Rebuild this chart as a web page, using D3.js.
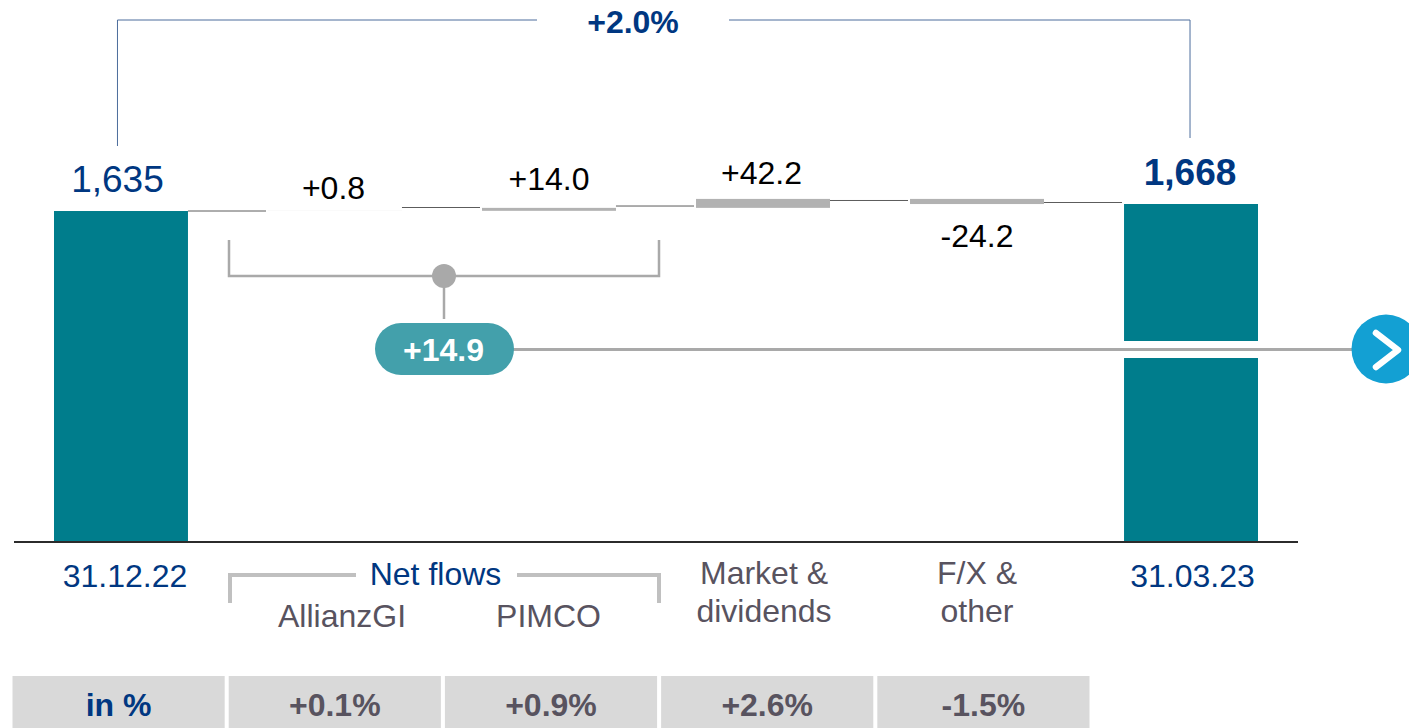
<!DOCTYPE html>
<html>
<head>
<meta charset="utf-8">
<script src="https://cdn.jsdelivr.net/npm/d3@7"></script>
<style>
    html, body { margin: 0; padding: 0; background: #fff; overflow: hidden; }
    text { font-family: "Liberation Sans", Arial, sans-serif; }
</style>
</head>
<body>
<script>
// waterfall data, EUR bn
const categories = ['31.12.22', 'AllianzGI', 'PIMCO', 'Market', 'FX', '31.03.23'];
const startValue = 1635;
const endValue = 1668;
const steps = [0.8, 14.0, 42.2, -24.2];
// connectors sit a bit off the running totals in the original
const connectorLevels = [1635, 1651.5, 1658.5, 1684.5, 1675];
const barLabels = ['1,635', '+0.8', '+14.0', '+42.2', '-24.2', '1,668'];
const netFlowLabel = '+14.9';
const totalChangeLabel = '+2.0%';
const tableLabels = ['in %', '+0.1%', '+0.9%', '+2.6%', '-1.5%'];

const WIDTH = 1409, HEIGHT = 728;
const BASELINE = 542;

const COLORS = {
    teal: '#007d8c',
    tealLight: '#43a0ab',
    navy: '#003781',
    grey: '#b2b2b2',
    bracket: '#a9a9a9',
    text: '#58535f',
    cell: '#d9d9d9',
    blue: '#13a0d3'
};

const svg = d3.select('body').append('svg')
    .attr('width', WIDTH)
    .attr('height', HEIGHT)
    .style('display', 'block');

// the y axis is broken in the original, so it does not start at zero
const x = d3.scaleBand().domain(categories).range([54, 1258]).paddingInner(0.374).paddingOuter(0);
const y = d3.scaleLinear().domain([77, endValue]).range([BASELINE, 204]);
const xMid = c => x(c) + x.bandwidth() / 2;

// running totals for the floating bars
let running = startValue;
const floats = steps.map((v, i) => {
    const row = { cat: categories[i + 1], from: running, to: running + v };
    running += v;
    return row;
});

// connectors between the bars
svg.append('g').selectAll('line')
    .data(connectorLevels)
    .enter().append('line')
    .attr('x1', (d, i) => x(categories[i]) + x.bandwidth())
    .attr('x2', (d, i) => x(categories[i + 1]) - 2)
    .attr('y1', d => y(d))
    .attr('y2', d => y(d))
    .attr('stroke', '#5c5c5c')
    .attr('stroke-width', 1);

// total bars
svg.append('g').selectAll('rect')
    .data([[categories[0], startValue], [categories[5], endValue]])
    .enter().append('rect')
    .attr('x', d => x(d[0]))
    .attr('y', d => y(d[1]))
    .attr('width', x.bandwidth())
    .attr('height', d => BASELINE - y(d[1]))
    .attr('fill', COLORS.teal);

// floating bars
svg.append('g').selectAll('rect')
    .data(floats)
    .enter().append('rect')
    .attr('x', d => x(d.cat))
    .attr('y', d => y(Math.max(d.from, d.to)))
    .attr('width', x.bandwidth())
    .attr('height', d => Math.abs(y(d.from) - y(d.to)))
    .attr('fill', (d, i) => i === 0 ? '#dcdcdc' : COLORS.grey);

// break in the last bar, behind the line to the arrow
svg.append('rect')
    .attr('x', x(categories[5]) - 1)
    .attr('y', 341)
    .attr('width', x.bandwidth() + 2)
    .attr('height', 17)
    .attr('fill', '#fff');

// baseline
svg.append('g')
    .attr('transform', `translate(0,${BASELINE})`)
    .call(d3.axisBottom(x).tickSize(0).tickFormat(''))
    .call(g => g.select('.domain')
        .attr('d', 'M14,0H1298')
        .attr('stroke', '#2b2b2b')
        .attr('stroke-width', 2));

// top bracket with the total change
const topBracket = svg.append('g')
    .attr('fill', 'none')
    .attr('stroke', '#4c6c9c')
    .attr('stroke-width', 1);
topBracket.append('path').attr('d', `M${xMid(categories[0]) - 3.5},146V20H537`);
topBracket.append('path').attr('d', `M729,20H${xMid(categories[5]) - 1}V138`);

svg.append('text')
    .attr('x', 633).attr('y', 33)
    .attr('text-anchor', 'middle')
    .attr('font-size', 32).attr('font-weight', 'bold')
    .attr('fill', COLORS.navy)
    .text(totalChangeLabel);

// value labels over the bars
const labelBaselines = [192, 199, 190, 183.5, 247, 185];
const labelShifts = [-3.5, -1.5, 0, -1.5, 0, -1];
svg.append('g').selectAll('text')
    .data(barLabels)
    .enter().append('text')
    .attr('x', (d, i) => xMid(categories[i]) + labelShifts[i])
    .attr('y', (d, i) => labelBaselines[i])
    .attr('text-anchor', 'middle')
    .attr('font-size', (d, i) => i === 0 || i === 5 ? 37 : 32)
    .attr('font-weight', (d, i) => i === 5 ? 'bold' : 'normal')
    .attr('fill', (d, i) => i === 0 || i === 5 ? COLORS.navy : '#000')
    .text(d => d);

// net flows bracket, dot and pill
svg.append('path')
    .attr('d', 'M229,240V276H659V240')
    .attr('fill', 'none')
    .attr('stroke', COLORS.bracket)
    .attr('stroke-width', 2.5);
svg.append('line')
    .attr('x1', 444).attr('x2', 444).attr('y1', 276).attr('y2', 319)
    .attr('stroke', COLORS.bracket).attr('stroke-width', 2.5);
svg.append('circle')
    .attr('cx', 444).attr('cy', 276).attr('r', 12)
    .attr('fill', COLORS.bracket);

svg.append('line')
    .attr('x1', 510).attr('x2', 1360).attr('y1', 349.5).attr('y2', 349.5)
    .attr('stroke', COLORS.bracket).attr('stroke-width', 3);

svg.append('rect')
    .attr('x', 375).attr('y', 323)
    .attr('width', 139).attr('height', 52)
    .attr('rx', 26)
    .attr('fill', COLORS.tealLight);
svg.append('text')
    .attr('x', 443.5).attr('y', 361)
    .attr('text-anchor', 'middle')
    .attr('font-size', 32).attr('font-weight', 'bold')
    .attr('fill', '#fff')
    .text(netFlowLabel);

// arrow button, runs off the right edge
svg.append('circle')
    .attr('cx', 1386).attr('cy', 349).attr('r', 34.5)
    .attr('fill', COLORS.blue);
svg.append('path')
    .attr('d', 'M1376,333L1398,350L1376,367')
    .attr('fill', 'none')
    .attr('stroke', '#fff')
    .attr('stroke-width', 6.5)
    .attr('stroke-linecap', 'round')
    .attr('stroke-linejoin', 'round');

// category labels
const addLabel = (label, cx, base, fill) => svg.append('text')
    .attr('x', cx).attr('y', base)
    .attr('text-anchor', 'middle')
    .attr('font-size', 32)
    .attr('fill', fill)
    .text(label);

addLabel('31.12.22', xMid(categories[0]) + 4, 587, COLORS.navy);
addLabel('31.03.23', xMid(categories[5]) + 1.5, 587, COLORS.navy);
addLabel('Net flows', 435.5, 585, COLORS.navy);
addLabel('AllianzGI', 342, 627, COLORS.text);
addLabel('PIMCO', 548.5, 627, COLORS.text);
addLabel('Market &', 764, 584, COLORS.text);
addLabel('dividends', 764, 622, COLORS.text);
addLabel('F/X &', 977, 584, COLORS.text);
addLabel('other', 977, 622, COLORS.text);

// bracket under the baseline
svg.append('path')
    .attr('d', 'M230,603V575H356M517,575H659V603')
    .attr('fill', 'none')
    .attr('stroke', '#c0c0c0')
    .attr('stroke-width', 4);

// table row
const tableX = d3.scaleBand().domain(tableLabels).range([12.5, 1089.5]).paddingInner(0.0186).paddingOuter(0);
const cells = svg.append('g').selectAll('g')
    .data(tableLabels)
    .enter().append('g')
    .attr('transform', d => `translate(${tableX(d)},676)`);
cells.append('rect')
    .attr('width', tableX.bandwidth())
    .attr('height', 52)
    .attr('fill', COLORS.cell);
cells.append('text')
    .attr('x', tableX.bandwidth() / 2)
    .attr('y', 40)
    .attr('text-anchor', 'middle')
    .attr('font-size', 32)
    .attr('font-weight', 'bold')
    .attr('fill', (d, i) => i === 0 ? COLORS.navy : COLORS.text)
    .text(d => d);
</script>
</body>
</html>
